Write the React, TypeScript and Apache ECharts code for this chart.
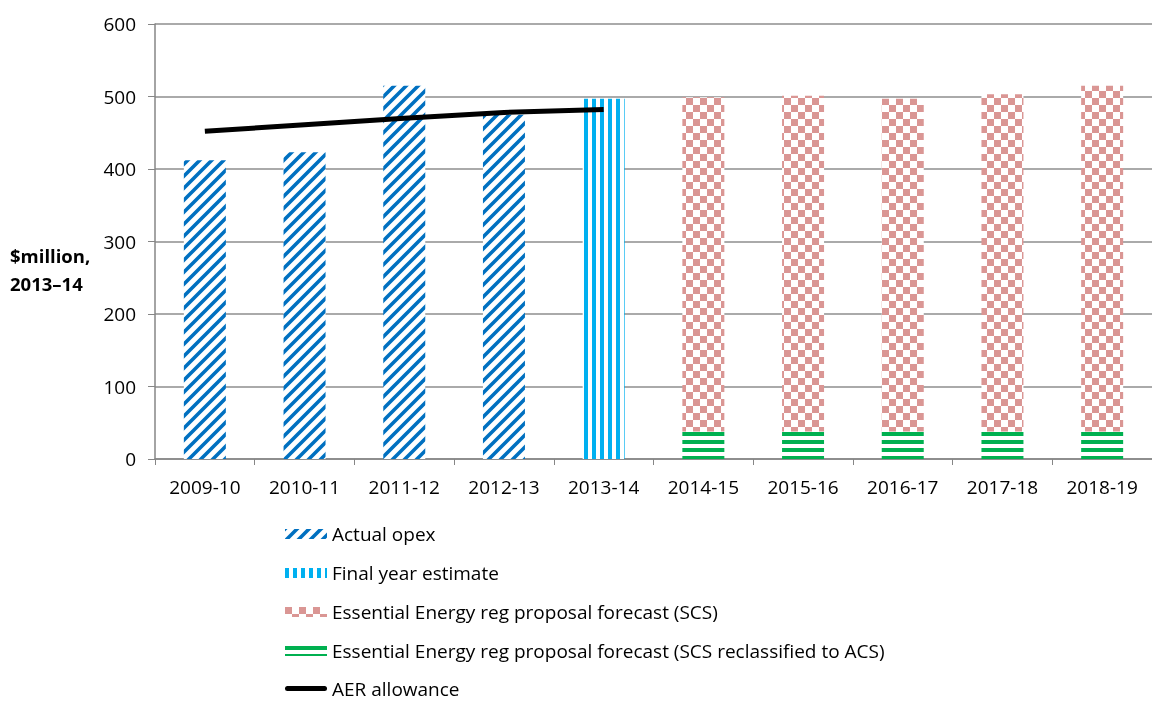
import React, { useEffect, useRef } from "react";
import * as echarts from "echarts";

const categories = ["2009-10", "2010-11", "2011-12", "2012-13", "2013-14", "2014-15", "2015-16", "2016-17", "2017-18", "2018-19"];
const actualOpex = [412, 423, 515, 475, null, null, null, null, null, null];
const finalYearEstimate = [null, null, null, null, 497, null, null, null, null, null];
const scsForecast = [null, null, null, null, null, 461, 463, 459, 465, 477];
const acsForecast = [null, null, null, null, null, 38, 38, 38, 38, 38];
const aerAllowance = [452, 461, 470, 478, 482, null, null, null, null, null];
const yTicks = [0, 100, 200, 300, 400, 500, 600];

const FONT = "Open Sans";

function makePattern(w: number, h: number, draw: (ctx: CanvasRenderingContext2D) => void) {
  const c = document.createElement("canvas");
  c.width = w;
  c.height = h;
  const ctx = c.getContext("2d")!;
  ctx.fillStyle = "#ffffff";
  ctx.fillRect(0, 0, w, h);
  draw(ctx);
  return { image: c, repeat: "repeat", imageWidth: w, imageHeight: h } as any;
}

export default function App() {
  const ref = useRef<HTMLDivElement>(null);
  useEffect(() => {
    if (!ref.current) return;
    const chart = echarts.init(ref.current, undefined, { renderer: "svg" });

    const diag = makePattern(12, 12, (ctx) => {
      ctx.strokeStyle = "#0070C0";
      ctx.lineWidth = 3.6;
      ctx.beginPath();
      for (let k = -1; k <= 1; k++) {
        ctx.moveTo(-2 + k * 12, 14);
        ctx.lineTo(14 + k * 12, -2);
      }
      ctx.stroke();
    });
    const vert = makePattern(8, 8, (ctx) => {
      ctx.fillStyle = "#00B0F0";
      ctx.fillRect(0, 0, 4, 8);
    });
    const checker = makePattern(14, 14, (ctx) => {
      ctx.fillStyle = "#DA9694";
      ctx.fillRect(0, 0, 7, 7);
      ctx.fillRect(7, 7, 7, 7);
    });
    const horiz = makePattern(8, 8, (ctx) => {
      ctx.fillStyle = "#00B050";
      ctx.fillRect(0, 0, 8, 4);
    });

    const textColor = "#000000";
    const legendBase = {
      orient: "vertical",
      left: 285,
      padding: 0,
      itemWidth: 42,
      itemHeight: 10,
      itemGap: 17,
      itemStyle: { borderWidth: 0 },
      textStyle: { fontSize: 19, color: textColor, fontFamily: FONT, lineHeight: 22 },
    };
    chart.setOption({
      animation: false,
      textStyle: { fontFamily: FONT },
      grid: { left: 155, top: 24, right: -8, bottom: 243, containLabel: false },
      xAxis: {
        type: "category",
        data: categories,
        boundaryGap: true,
        axisLine: { lineStyle: { color: "#868686", width: 1.5 } },
        axisTick: { show: true, length: 6, lineStyle: { color: "#868686" } },
        axisLabel: { color: textColor, fontSize: 19, margin: 18, fontFamily: FONT, interval: 0 },
        splitLine: { show: false },
      },
      yAxis: {
        type: "value",
        min: 0,
        max: 600,
        interval: 100,
        axisLine: { show: true, lineStyle: { color: "#868686", width: 1.5 } },
        axisTick: { show: true, inside: false, length: 7, lineStyle: { color: "#868686" } },
        axisLabel: {
          color: textColor,
          fontSize: 19,
          margin: 19,
          fontFamily: FONT,
          formatter: (v: number) => (yTicks.includes(v) ? String(v) : ""),
        },
        splitLine: { show: true, lineStyle: { color: "#8E8E8E", width: 1.5 } },
      },
      legend: [
        {
          ...legendBase,
          top: 523,
          height: 170,
          data: [
            { name: "Actual opex", icon: "rect" },
            { name: "Final year estimate", icon: "rect" },
            { name: "Essential Energy reg proposal forecast (SCS)", icon: "rect" },
            { name: "Essential Energy reg proposal forecast (SCS reclassified to ACS)", icon: "rect" },
          ],
        },
        {
          ...legendBase,
          top: 679,
          textStyle: { ...legendBase.textStyle, lineHeight: 18 },
          data: [
            { name: "AER allowance", icon: "path://M2.5,0H39.5A2.5,2.5,0,0,1,39.5,5H2.5A2.5,2.5,0,0,1,2.5,0Z", itemStyle: { color: "#000000" } },
          ],
        },
      ],
      graphic: [
        {
          type: "text",
          left: 10,
          top: 241,
          style: {
            text: "$million,\n2013–14",
            fontSize: 18.5,
            fontWeight: "bold",
            fontFamily: FONT,
            lineHeight: 28,
            fill: textColor,
          },
        },
      ],
      series: [
        {
          name: "Actual opex",
          type: "bar",
          stack: "s",
          barWidth: 42,
          data: actualOpex,
          itemStyle: { color: diag },
        },
        {
          name: "Final year estimate",
          type: "bar",
          stack: "s",
          barWidth: 42,
          data: finalYearEstimate,
          itemStyle: { color: vert },
        },
        {
          name: "Essential Energy reg proposal forecast (SCS reclassified to ACS)",
          type: "bar",
          stack: "s",
          barWidth: 42,
          data: acsForecast,
          itemStyle: { color: horiz },
        },
        {
          name: "Essential Energy reg proposal forecast (SCS)",
          type: "bar",
          stack: "s",
          barWidth: 42,
          data: scsForecast,
          itemStyle: { color: checker },
        },
        {
          name: "AER allowance",
          type: "line",
          data: aerAllowance,
          symbol: "none",
          lineStyle: { color: "#000000", width: 5 },
          itemStyle: { color: "#000000" },
          z: 5,
        },
      ],
    });
    return () => chart.dispose();
  }, []);
  return <div ref={ref} style={{ position: "fixed", left: 0, top: 0, width: 1152, height: 702 }} />;
}
